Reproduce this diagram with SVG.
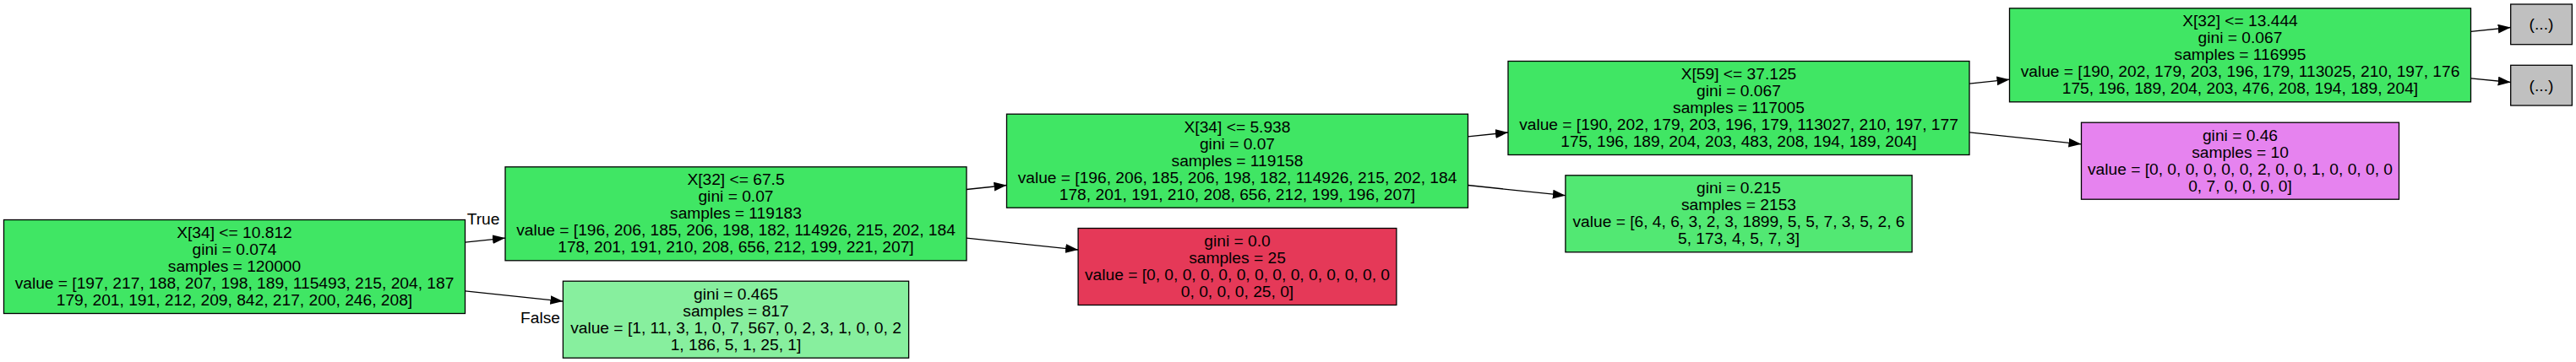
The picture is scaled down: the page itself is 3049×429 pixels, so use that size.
<svg xmlns="http://www.w3.org/2000/svg" width="3049" height="429" viewBox="0 0 3049 429">
<style>
.box{stroke:#000;stroke-width:1.3}
.g{fill:#40e664}
text{font-family:"Liberation Sans",Arial,sans-serif;font-size:19.2px;fill:#000;text-anchor:middle}
.e{stroke:#000;stroke-width:1.3;fill:none;marker-end:url(#ah)}
</style>
<defs>
<marker id="ah" markerUnits="userSpaceOnUse" markerWidth="16" markerHeight="12" refX="15" refY="5.4" orient="auto">
<path d="M0,0 L15,5.4 L0,10.8 z" fill="#000"/>
</marker>
</defs>
<rect width="3049" height="429" fill="#fff"/>
<g id="connectors">
<line class="e" x1="550.5" y1="287.2" x2="598" y2="282.1"/>
<line class="e" x1="550.5" y1="344.8" x2="666.4" y2="357.1"/>
<line class="e" x1="1144" y1="224.5" x2="1191.5" y2="219.5"/>
<line class="e" x1="1144" y1="282.1" x2="1276.1" y2="296"/>
<line class="e" x1="1737.5" y1="161.9" x2="1785" y2="157"/>
<line class="e" x1="1737.5" y1="219.5" x2="1852.9" y2="231.7"/>
<line class="e" x1="2331" y1="99.2" x2="2378.5" y2="94.2"/>
<line class="e" x1="2331" y1="156.8" x2="2463.5" y2="170.8"/>
<line class="e" x1="2924.5" y1="37.4" x2="2971.7" y2="32.5"/>
<line class="e" x1="2924.5" y1="92.8" x2="2971.7" y2="97.5"/>
<text x="572" y="266">True</text>
<text x="639.5" y="383">False</text>
</g>
<g id="node0">
<rect class="box g" x="4.5" y="260.5" width="546" height="111"/>
<text x="277.5" y="282">X[34] &lt;= 10.812</text>
<text x="277.5" y="302">gini = 0.074</text>
<text x="277.5" y="322">samples = 120000</text>
<text x="277.5" y="342">value = [197, 217, 188, 207, 198, 189, 115493, 215, 204, 187</text>
<text x="277.5" y="362">179, 201, 191, 212, 209, 842, 217, 200, 246, 208]</text>
</g>
<g id="node1">
<rect class="box g" x="598" y="197.8" width="546" height="111"/>
<text x="871" y="219.3">X[32] &lt;= 67.5</text>
<text x="871" y="239.3">gini = 0.07</text>
<text x="871" y="259.3">samples = 119183</text>
<text x="871" y="279.3">value = [196, 206, 185, 206, 198, 182, 114926, 215, 202, 184</text>
<text x="871" y="299.3">178, 201, 191, 210, 208, 656, 212, 199, 221, 207]</text>
</g>
<g id="node2">
<rect class="box" fill="#87ef9e" x="666.4" y="333.2" width="409.2" height="91"/>
<text x="871" y="354.7">gini = 0.465</text>
<text x="871" y="374.7">samples = 817</text>
<text x="871" y="394.7">value = [1, 11, 3, 1, 0, 7, 567, 0, 2, 3, 1, 0, 0, 2</text>
<text x="871" y="414.7">1, 186, 5, 1, 25, 1]</text>
</g>
<g id="node3">
<rect class="box g" x="1191.5" y="135.2" width="546" height="111"/>
<text x="1464.5" y="156.7">X[34] &lt;= 5.938</text>
<text x="1464.5" y="176.7">gini = 0.07</text>
<text x="1464.5" y="196.7">samples = 119158</text>
<text x="1464.5" y="216.7">value = [196, 206, 185, 206, 198, 182, 114926, 215, 202, 184</text>
<text x="1464.5" y="236.7">178, 201, 191, 210, 208, 656, 212, 199, 196, 207]</text>
</g>
<g id="node4">
<rect class="box" fill="#e53958" x="1276.1" y="270.5" width="376.8" height="91"/>
<text x="1464.5" y="292">gini = 0.0</text>
<text x="1464.5" y="312">samples = 25</text>
<text x="1464.5" y="332">value = [0, 0, 0, 0, 0, 0, 0, 0, 0, 0, 0, 0, 0, 0</text>
<text x="1464.5" y="352">0, 0, 0, 0, 25, 0]</text>
</g>
<g id="node5">
<rect class="box g" x="1785" y="72.5" width="546" height="111"/>
<text x="2058" y="94">X[59] &lt;= 37.125</text>
<text x="2058" y="114">gini = 0.067</text>
<text x="2058" y="134">samples = 117005</text>
<text x="2058" y="154">value = [190, 202, 179, 203, 196, 179, 113027, 210, 197, 177</text>
<text x="2058" y="174">175, 196, 189, 204, 203, 483, 208, 194, 189, 204]</text>
</g>
<g id="node6">
<rect class="box" fill="#52e873" x="1852.9" y="207.8" width="410.2" height="91"/>
<text x="2058" y="229.3">gini = 0.215</text>
<text x="2058" y="249.3">samples = 2153</text>
<text x="2058" y="269.3">value = [6, 4, 6, 3, 2, 3, 1899, 5, 5, 7, 3, 5, 2, 6</text>
<text x="2058" y="289.3">5, 173, 4, 5, 7, 3]</text>
</g>
<g id="node7">
<rect class="box g" x="2378.5" y="9.8" width="546" height="111"/>
<text x="2651.5" y="31.3">X[32] &lt;= 13.444</text>
<text x="2651.5" y="51.3">gini = 0.067</text>
<text x="2651.5" y="71.3">samples = 116995</text>
<text x="2651.5" y="91.3">value = [190, 202, 179, 203, 196, 179, 113025, 210, 197, 176</text>
<text x="2651.5" y="111.3">175, 196, 189, 204, 203, 476, 208, 194, 189, 204]</text>
</g>
<g id="node8">
<rect class="box" fill="#e683ef" x="2463.5" y="145.2" width="376" height="91"/>
<text x="2651.5" y="166.7">gini = 0.46</text>
<text x="2651.5" y="186.7">samples = 10</text>
<text x="2651.5" y="206.7">value = [0, 0, 0, 0, 0, 0, 2, 0, 0, 1, 0, 0, 0, 0</text>
<text x="2651.5" y="226.7">0, 7, 0, 0, 0, 0]</text>
</g>
<g id="node9">
<rect class="box" fill="#c0c0c0" x="2971.7" y="5" width="72.6" height="47.7"/>
<text x="3008" y="35.3">(...)</text>
</g>
<g id="node10">
<rect class="box" fill="#c0c0c0" x="2971.7" y="77.3" width="72.6" height="47.7"/>
<text x="3008" y="107.7">(...)</text>
</g>
</svg>
